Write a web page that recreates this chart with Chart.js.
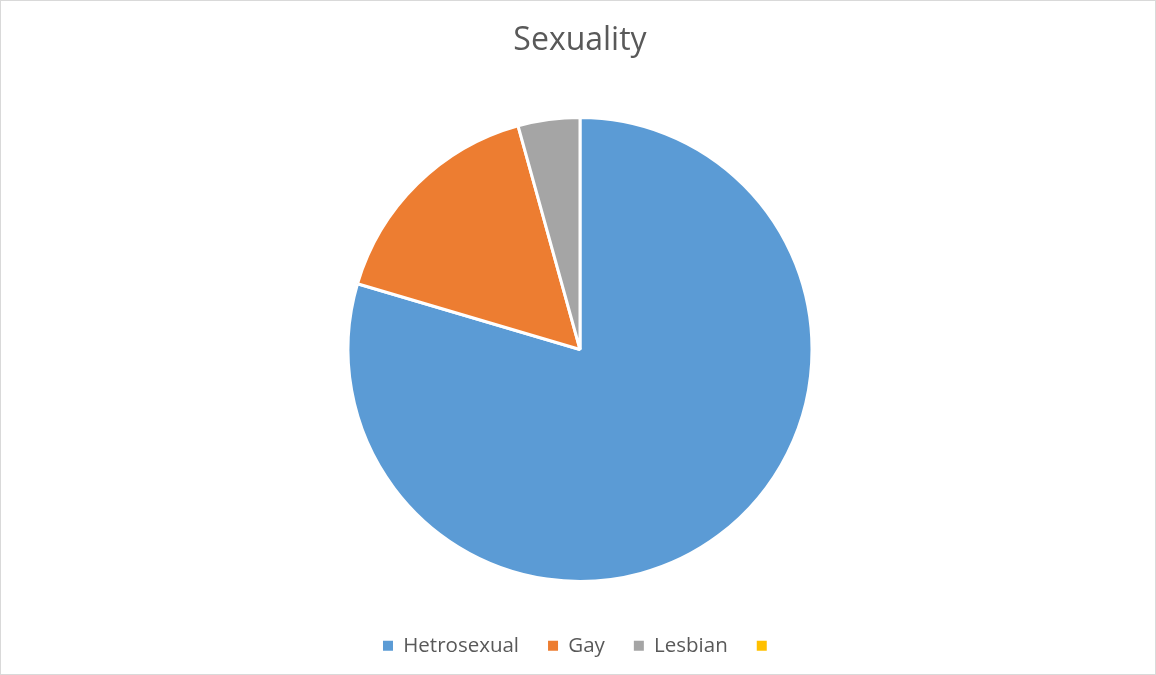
<!DOCTYPE html>
<html>
<head>
<meta charset="utf-8">
<script src="https://cdn.jsdelivr.net/npm/chart.js@4"></script>
<style>
  html, body { margin: 0; padding: 0; background: #fff; }
  #wrap {
    width: 1156px; height: 675px; box-sizing: border-box;
    border: 1px solid #d9d9d9; overflow: hidden;
  }
  #inner { width: 1154px; height: 665px; position: relative; }
  canvas { display: block; }
</style>
</head>
<body>
<div id="wrap"><div id="inner"><canvas id="sexualityChart"></canvas></div></div>
<script>
// Chart data
const categories = ['Hetrosexual', 'Gay', 'Lesbian', ''];
const counts = [74, 15, 4, 0];
const sliceColors = ['#5B9BD5', '#ED7D31', '#A5A5A5', '#FFC000'];

const ctx = document.getElementById('sexualityChart');

new Chart(ctx, {
  type: 'pie',
  data: {
    labels: categories,
    datasets: [{
      data: counts,
      backgroundColor: sliceColors,
      borderColor: '#ffffff',
      borderWidth: 3,
      radius: 232
    }]
  },
  options: {
    responsive: true,
    maintainAspectRatio: false,
    animation: false,
    layout: {
      padding: { top: 0, bottom: 0, left: 4, right: 0 }
    },
    plugins: {
      title: {
        display: true,
        text: 'Sexuality',
        color: '#595959',
        font: { family: 'Open Sans', size: 32, weight: 'normal' },
        padding: { top: 21, bottom: 32 }
      },
      legend: {
        position: 'bottom',
        labels: {
          color: '#595959',
          font: { family: 'Open Sans', size: 20.5 },
          boxWidth: 10,
          boxHeight: 10,
          padding: 29,
          generateLabels: (chart) =>
            Chart.overrides.pie.plugins.legend.labels.generateLabels(chart)
              .map(item => ({ ...item, lineWidth: 0 }))
        }
      },
      tooltip: { enabled: false }
    }
  }
});
</script>
</body>
</html>
